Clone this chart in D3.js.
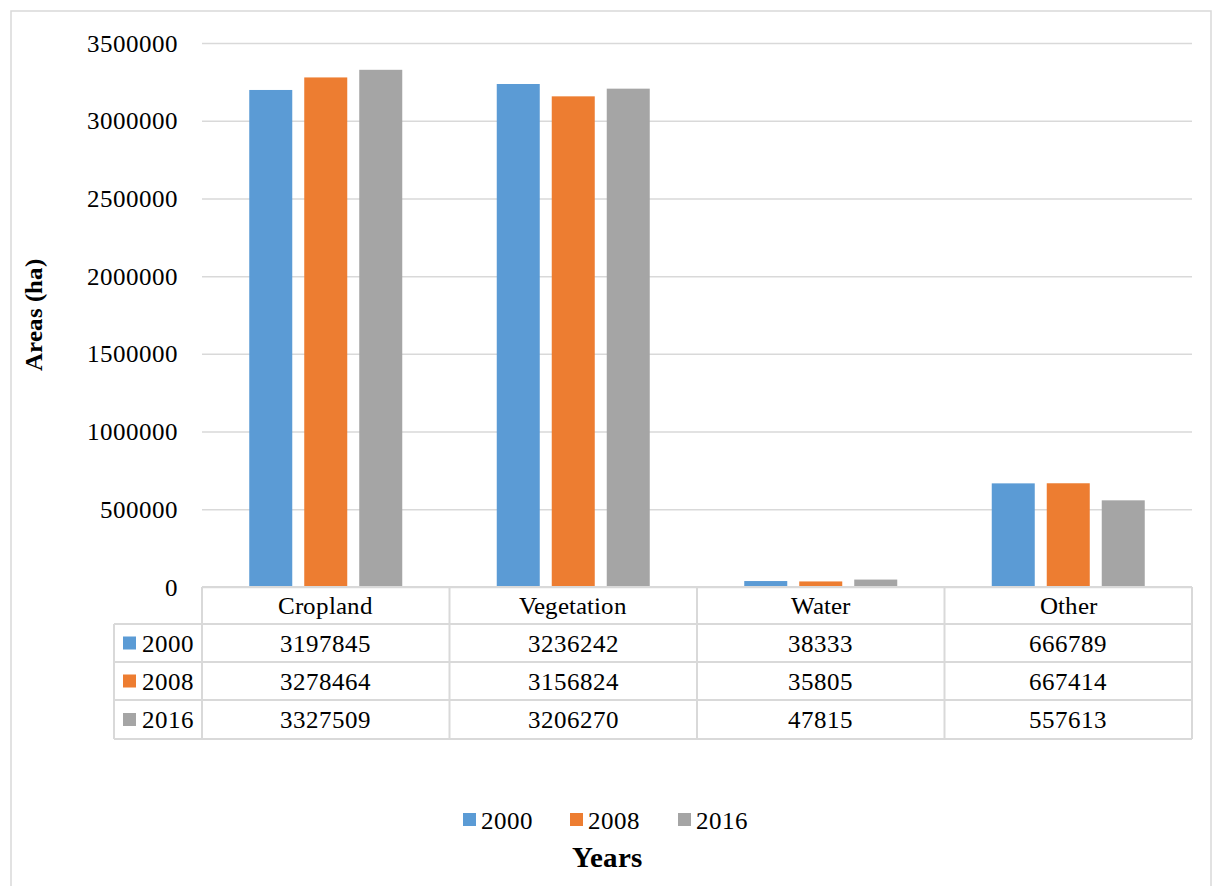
<!DOCTYPE html>
<html>
<head>
<meta charset="utf-8">
<script src="https://cdn.jsdelivr.net/npm/d3@7"></script>
<style>
  @font-face { font-family: "ChartSerif"; src: local("Liberation Serif"), local("LiberationSerif"), local("Times New Roman"); font-weight: normal; }
  @font-face { font-family: "ChartSerif"; src: local("Liberation Serif Bold"), local("LiberationSerif-Bold"), local("Times New Roman Bold"); font-weight: bold; }
  html, body { margin: 0; padding: 0; background: #fff; }
  svg text { font-family: "ChartSerif", "Liberation Serif", serif; }
</style>
</head>
<body>
<svg id="fig" width="1215" height="886"></svg>
<script>
// Land-cover areas by class and year
const categories = ["Cropland", "Vegetation", "Water", "Other"];
const years = ["2000", "2008", "2016"];
const values2000 = [3197845, 3236242, 38333, 666789];
const values2008 = [3278464, 3156824, 35805, 667414];
const values2016 = [3327509, 3206270, 47815, 557613];
const yTicks = [0, 500000, 1000000, 1500000, 2000000, 2500000, 3000000, 3500000];
const colors = ["#5b9bd5", "#ed7d31", "#a5a5a5"];

const series = [values2000, values2008, values2016];

const svg = d3.select("#fig");
const plot = { left: 202, right: 1192, top: 43, bottom: 587 };
const gridColor = "#d9d9d9";
const fontSize = 25;

// outer frame
svg.append("rect")
  .attr("x", 11).attr("y", 11).attr("width", 1200).attr("height", 885)
  .attr("fill", "#fff").attr("stroke", gridColor).attr("stroke-width", 1.5);

const x = d3.scaleBand().domain(categories).range([plot.left, plot.right]).paddingInner(0).paddingOuter(0);
const groupWidth = 153;
const xInner = d3.scaleBand().domain(years)
  .range([(x.bandwidth() - groupWidth) / 2, (x.bandwidth() + groupWidth) / 2])
  .paddingInner(0.218).paddingOuter(0);
const y = d3.scaleLinear().domain([0, 3500000]).range([plot.bottom, plot.top]);

// gridlines + y-axis labels
const yAxis = d3.axisLeft(y).tickValues(yTicks).tickSize(-(plot.right - plot.left)).tickPadding(24).tickFormat(d3.format("d"));
const gy = svg.append("g").attr("transform", `translate(${plot.left},0)`).call(yAxis);
gy.attr("font-family", null).attr("font-size", null);
gy.select(".domain").remove();
gy.selectAll(".tick line").attr("stroke", gridColor).attr("stroke-width", 1.5);
gy.selectAll(".tick text")
  .style("font-size", fontSize + "px")
  .attr("fill", "#000")
  .attr("dy", "0.32em");

// bars
const groups = svg.append("g").selectAll("g")
  .data(categories)
  .join("g")
  .attr("transform", d => `translate(${x(d)},0)`);

groups.selectAll("rect")
  .data((c, i) => years.map((yr, k) => ({ yr, k, v: series[k][i] })))
  .join("rect")
  .attr("x", d => xInner(d.yr))
  .attr("width", xInner.bandwidth())
  .attr("y", d => y(d.v))
  .attr("height", d => y(0) - y(d.v))
  .attr("fill", d => colors[d.k]);

// data table beneath the axis
const table = svg.append("g");
const rowTops = [587, 624, 662, 700, 739];
const tableLeft = 114;
const line = (x1, y1, x2, y2) => table.append("line")
  .attr("x1", x1).attr("y1", y1).attr("x2", x2).attr("y2", y2)
  .attr("stroke", gridColor).attr("stroke-width", 2);

// horizontal rules
line(plot.left, rowTops[0], plot.right, rowTops[0]);
for (let r = 1; r < rowTops.length; r++) line(tableLeft, rowTops[r], plot.right, rowTops[r]);
// vertical rules
const colEdges = categories.map(c => x(c)).concat([plot.right]);
colEdges.forEach(cx => line(cx, rowTops[0], cx, rowTops[4]));
line(tableLeft, rowTops[1], tableLeft, rowTops[4]);

// header: category names
table.selectAll("text.cat")
  .data(categories)
  .join("text")
  .attr("class", "cat")
  .attr("x", d => x(d) + x.bandwidth() / 2)
  .attr("y", (rowTops[0] + rowTops[1]) / 2)
  .attr("dy", "0.35em")
  .attr("text-anchor", "middle")
  .style("font-size", fontSize + "px")
  .text(d => d);

// value rows with legend keys
years.forEach((yr, k) => {
  const cy = (rowTops[k + 1] + rowTops[k + 2]) / 2;
  table.append("rect")
    .attr("x", 123).attr("y", cy - 6.5).attr("width", 13).attr("height", 13)
    .attr("fill", colors[k]);
  table.append("text")
    .attr("x", 142).attr("y", cy).attr("dy", "0.35em")
    .style("font-size", fontSize + "px")
    .text(yr);
  table.selectAll(null)
    .data(categories)
    .enter().append("text")
    .attr("x", d => x(d) + x.bandwidth() / 2)
    .attr("y", cy).attr("dy", "0.35em")
    .attr("text-anchor", "middle")
    .style("font-size", fontSize + "px")
    .text((d, i) => series[k][i]);
});

// y-axis title
svg.append("text")
  .attr("transform", "translate(42,315) rotate(-90)")
  .attr("text-anchor", "middle")
  .style("font-size", "25px")
  .style("font-weight", "bold")
  .text("Areas (ha)");

// legend
const legendX = [463, 570, 678];
const legend = svg.append("g");
years.forEach((yr, k) => {
  legend.append("rect")
    .attr("x", legendX[k]).attr("y", 813).attr("width", 13).attr("height", 13)
    .attr("fill", colors[k]);
  legend.append("text")
    .attr("x", legendX[k] + 18).attr("y", 820).attr("dy", "0.35em")
    .style("font-size", fontSize + "px")
    .text(yr);
});

// x-axis title
svg.append("text")
  .attr("x", 607).attr("y", 857).attr("dy", "0.35em")
  .attr("text-anchor", "middle")
  .style("font-size", "29px")
  .style("font-weight", "bold")
  .text("Years");
</script>
</body>
</html>
